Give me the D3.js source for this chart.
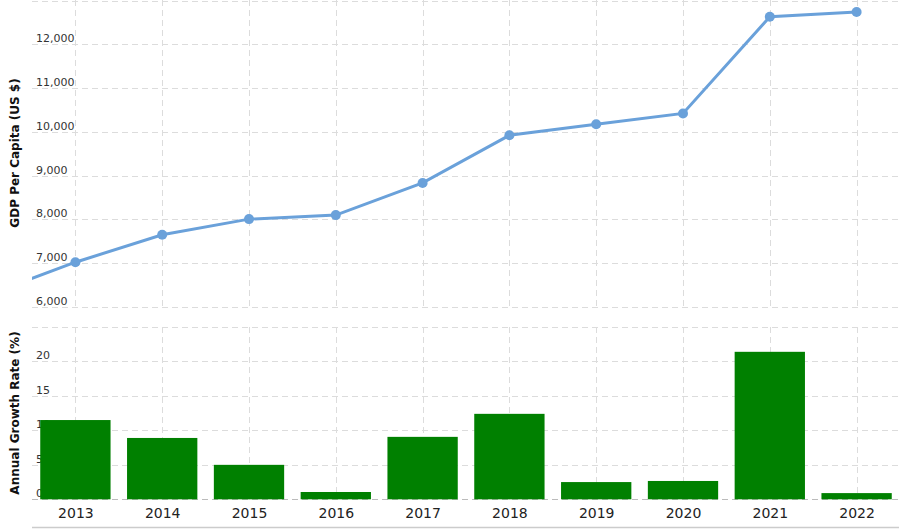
<!DOCTYPE html>
<html>
<head>
<meta charset="utf-8">
<script src="https://cdn.jsdelivr.net/npm/d3@7"></script>
<style>
  body { margin: 0; background: #fff; }
  svg text { font-family: "DejaVu Sans", Verdana, sans-serif; }
</style>
</head>
<body>
<div id="chart" style="width:899px;height:529px"></div>
<script>
// data
const years = [2013, 2014, 2015, 2016, 2017, 2018, 2019, 2020, 2021, 2022];
const gdpYears = [2012, 2013, 2014, 2015, 2016, 2017, 2018, 2019, 2020, 2021, 2022];
const gdpValues = [6280, 7023, 7650, 8007, 8099, 8834, 9922, 10175, 10421, 12628, 12736];
const growthValues = [11.5, 8.9, 5.0, 1.06, 9.06, 12.4, 2.5, 2.66, 21.4, 0.9];
const gdpTicks = [6000, 7000, 8000, 9000, 10000, 11000, 12000, 13000];
const growthTicks = [0, 5, 10, 15, 20, 25];

const node = document.getElementById('chart');
const width = 899;
const height = 529;
const left = 32;
const right = 900;
const lineColor = '#6aa1da';
const barColor = '#008000';
const gridColor = '#dcdcdc';

const svg = d3.select(node).append('svg')
    .attr('width', width)
    .attr('height', height);

// x: linear on year so the off-chart 2012 point still feeds the line
const xScale = d3.scaleLinear()
    .domain([years[0] - 0.5, years[years.length - 1] + 0.5])
    .range([left, right]);
const step = xScale(years[0] + 1) - xScale(years[0]);

const yTop = d3.scaleLinear().domain([6000, 13000]).range([307, 0.5]);
const yBot = d3.scaleLinear().domain([0, 25]).range([499.3, 327]);

// ***** grid *****
const grid = svg.append('g').attr('class', 'grid')
    .attr('stroke', gridColor)
    .attr('stroke-dasharray', '6,4')
    .attr('stroke-width', 1);

grid.selectAll('.vTop').data(years).enter().append('line')
    .attr('x1', (d) => Math.round(xScale(d)) + 0.5)
    .attr('x2', (d) => Math.round(xScale(d)) + 0.5)
    .attr('y1', 0)
    .attr('y2', yTop(6000));
grid.selectAll('.vBot').data(years).enter().append('line')
    .attr('x1', (d) => Math.round(xScale(d)) + 0.5)
    .attr('x2', (d) => Math.round(xScale(d)) + 0.5)
    .attr('y1', yBot(25))
    .attr('y2', yBot(0));
grid.selectAll('.hTop').data(gdpTicks).enter().append('line')
    .attr('x1', left)
    .attr('x2', width)
    .attr('y1', (d) => Math.round(yTop(d)) + 0.5)
    .attr('y2', (d) => Math.round(yTop(d)) + 0.5);
grid.selectAll('.hBot').data(growthTicks).enter().append('line')
    .attr('x1', left)
    .attr('x2', width)
    .attr('y1', (d) => Math.round(yBot(d)) + 0.5)
    .attr('y2', (d) => Math.round(yBot(d)) + 0.5)
    .attr('stroke', (d) => (d === 0 ? '#bbb' : gridColor));

// ***** y tick labels *****
const fmt = d3.format(',');
svg.append('g').selectAll('text').data(gdpTicks.filter((d) => d < 13000)).enter().append('text')
    .attr('x', 36)
    .attr('y', (d) => yTop(d) - 2)
    .attr('font-size', 11)
    .attr('fill', '#333')
    .text((d) => fmt(d));
svg.append('g').selectAll('text').data(growthTicks.filter((d) => d < 25)).enter().append('text')
    .attr('x', 36)
    .attr('y', (d) => yBot(d) - 2)
    .attr('font-size', 11)
    .attr('fill', '#333')
    .text((d) => d);

// ***** axis titles *****
svg.append('text')
    .attr('transform', `translate(19,${153}) rotate(-90)`)
    .attr('text-anchor', 'middle')
    .attr('font-size', 12)
    .attr('font-weight', 'bold')
    .attr('fill', '#111')
    .text('GDP Per Capita (US $)');
svg.append('text')
    .attr('transform', `translate(19,${413}) rotate(-90)`)
    .attr('text-anchor', 'middle')
    .attr('font-size', 12)
    .attr('font-weight', 'bold')
    .attr('fill', '#111')
    .text('Annual Growth Rate (%)');

// ***** bars *****
const barW = step * 0.81;
svg.append('g').selectAll('rect').data(years).enter().append('rect')
    .attr('x', (d) => xScale(d) - barW / 2)
    .attr('width', barW)
    .attr('y', (d, i) => yBot(growthValues[i]))
    .attr('height', (d, i) => yBot(0) - yBot(growthValues[i]))
    .attr('fill', barColor);

// ***** line *****
svg.append('clipPath').attr('id', 'clip')
    .append('rect')
    .attr('x', left)
    .attr('y', 0)
    .attr('width', width - left)
    .attr('height', yTop(6000));

const gdpData = gdpYears.map((y, i) => ({ year: y, value: gdpValues[i] }));
const linePath = d3.line()
    .x((d) => xScale(d.year))
    .y((d) => yTop(d.value));

const lineG = svg.append('g').attr('clip-path', 'url(#clip)');
lineG.append('path')
    .attr('d', linePath(gdpData))
    .attr('fill', 'none')
    .attr('stroke', lineColor)
    .attr('stroke-width', 3);
lineG.selectAll('circle').data(gdpData.filter((d) => d.year >= years[0])).enter().append('circle')
    .attr('cx', (d) => xScale(d.year))
    .attr('cy', (d) => yTop(d.value))
    .attr('r', 5)
    .attr('fill', lineColor);

// ***** x axis *****
const xAxis = d3.axisBottom(xScale)
    .tickValues(years)
    .tickFormat(d3.format('d'))
    .tickSize(0)
    .tickPadding(9);
const xg = svg.append('g')
    .attr('transform', `translate(0,${yBot(0)})`)
    .call(xAxis);
xg.select('.domain').remove();
xg.selectAll('text')
    .attr('font-size', 14)
    .attr('fill', '#222')
    .style('font-family', '"DejaVu Sans", Verdana, sans-serif');

svg.append('line')
    .attr('x1', left)
    .attr('x2', width)
    .attr('y1', 527.5)
    .attr('y2', 527.5)
    .attr('stroke', '#ccc')
    .attr('stroke-width', 1.5);
</script>
</body>
</html>
